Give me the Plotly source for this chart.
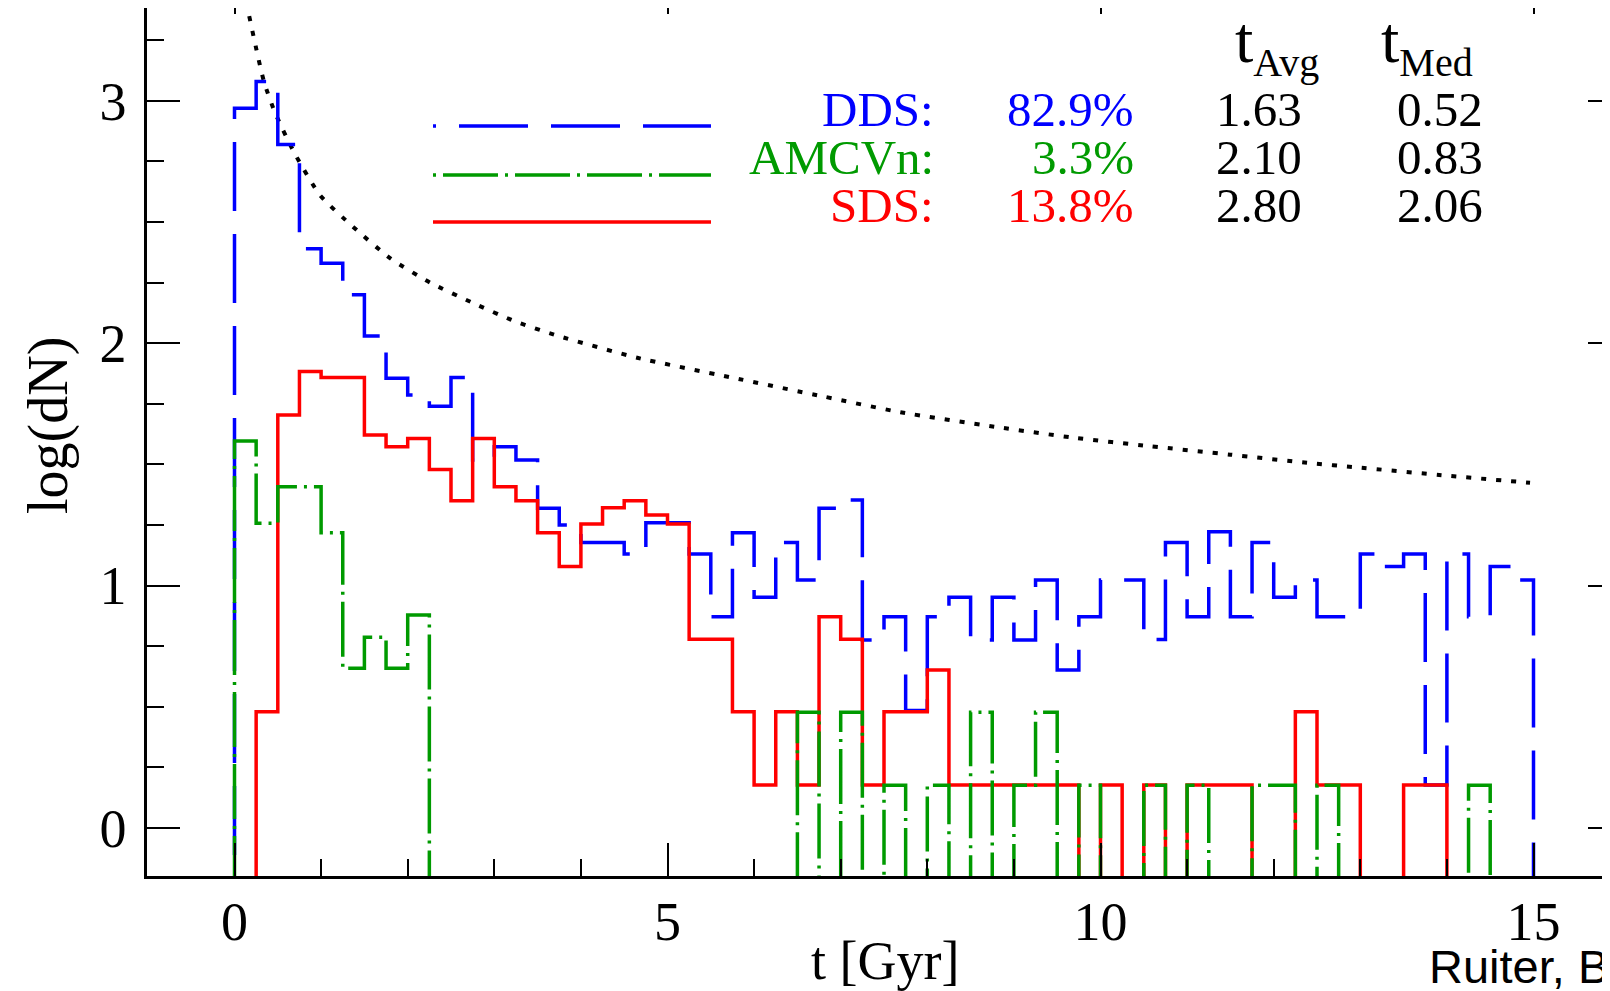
import plotly.graph_objects as go

# ---------------- data ----------------
bin_width = 0.25  # Gyr, bins start at t = 0

# log(dN) per 0.25 Gyr bin, t = 0 ... 15 Gyr (None = empty bin)
dds = [2.97, 3.08, 2.82, 2.39, 2.33, 2.20, 2.03, 1.855, 1.786, 1.74,
       1.858, 1.518, 1.573, 1.518, 1.319, 1.25, 1.177, 1.177, 1.13, 1.259,
       1.259, 1.13, 0.871, 1.218, 0.951, 1.177, 1.023, 1.319, 1.353, 0.775,
       0.871, 0.484, 0.871, 0.951, 0.775, 0.951, 0.775, 1.023, 0.651, 0.871,
       1.023, 1.023, 0.777, 1.177, 0.871, 1.222, 0.871, 1.177, 0.951, 1.023,
       0.871, 0.871, 1.13, 1.078, 1.13, 0.177, 1.13, 0.871, 1.078, 1.023]

amcvn = [1.596, 1.257, 1.408, 1.408, 1.218, 0.658, 0.786, 0.658, 0.878, None,
         None, None, None, None, None, None, None, None, None, None,
         None, None, None, None, None, None, 0.477, None, 0.477, None,
         0.176, None, 0.176, None, 0.477, None, 0.176, 0.477, None, 0.176,
         None, None, 0.176, None, 0.176, None, None, 0.176, 0.176, None,
         0.176, None, None, None, None, None, None, 0.176, None, None]

sds = [None, 0.479, 1.704, 1.883, 1.858, 1.858, 1.621, 1.573, 1.607, 1.479,
       1.350, 1.607, 1.408, 1.350, 1.218, 1.078, 1.254, 1.321, 1.350, 1.291,
       1.254, 0.778, 0.778, 0.479, 0.177, 0.479, 0.177, 0.871, 0.778, 0.177,
       0.479, 0.479, 0.651, 0.177, 0.177, 0.177, 0.177, 0.177, 0.177, None,
       0.177, None, 0.177, None, 0.177, 0.177, 0.177, None, None, 0.479,
       0.177, 0.177, None, None, 0.177, 0.177, None, None, None, None]

# dotted reference curve
dotted_t = [0.17, 0.34, 0.47, 0.70, 0.99, 1.37, 1.80, 2.26, 2.76, 3.24, 3.74,
            4.65, 5.72, 6.80, 7.69, 8.78, 9.69, 10.57, 11.50, 12.42, 12.95,
            14.04, 14.96]
dotted_y = [3.35, 3.08, 2.95, 2.78, 2.61, 2.48, 2.35, 2.25, 2.165, 2.09, 2.03,
            1.94, 1.86, 1.78, 1.715, 1.655, 1.61, 1.575, 1.54, 1.505, 1.488,
            1.452, 1.424]

# table text
names = ["DDS:", "AMCVn:", "SDS:"]
percents = ["82.9%", "3.3%", "13.8%"]
t_avg = ["1.63", "2.10", "2.80"]
t_med = ["0.52", "0.83", "2.06"]
headers = ["Avg", "Med"]

x_ticks = [0, 5, 10, 15]
y_ticks = [0, 1, 2, 3]

# ---------------- geometry (page pixels) ----------------
OFF = 8                      # default page margin around the figure div
PAGE_W, PAGE_H = 1610, 991
W, H = PAGE_W - OFF, PAGE_H - OFF
PLOT_L, PLOT_R, PLOT_T, PLOT_B = 147, 1610, 8, 876   # plot area on the page
ML = PLOT_L - OFF
MT = PLOT_T - OFF
PW = PLOT_R - PLOT_L
PH = PLOT_B - PLOT_T
MB = H - (PLOT_B - OFF)
X0_PX, X_SCALE = 234.5, 86.6      # page pixel of t=0, px per Gyr
Y0_PX, Y_SCALE = 827.8, 242.3     # page pixel of log=0, px per dex
x_range = [(PLOT_L - X0_PX) / X_SCALE, (PLOT_R - X0_PX) / X_SCALE]
y_range = [(Y0_PX - PLOT_B) / Y_SCALE, (Y0_PX - PLOT_T) / Y_SCALE]
FLOOR = y_range[0] - 0.4

BLUE, GREEN, RED = "#0000ff", "#009a00", "#ff0000"
SERIF = "Liberation Serif, DejaVu Serif, serif"
SANS = "Liberation Sans, Arial, sans-serif"
LW = 3.5
DASH_DDS = "3px,23px,66px,0px"
DASH_AM = "3px,7px,55px,7px"


def step_xy(vals):
    xs = [0.0] + [i * bin_width for i in range(len(vals))] + [len(vals) * bin_width]
    ys = [FLOOR] + [v if v is not None else FLOOR for v in vals] + [FLOOR]
    return xs, ys


fig = go.Figure()

fig.add_trace(go.Scatter(x=dotted_t, y=dotted_y, mode="lines",
                         line=dict(color="black", width=4, dash="5px,10px",
                                   shape="spline", smoothing=0.6),
                         showlegend=False, hoverinfo="skip"))
for vals, col, dash in [(dds, BLUE, DASH_DDS), (sds, RED, "solid"), (amcvn, GREEN, DASH_AM)]:
    xs, ys = step_xy(vals)
    fig.add_trace(go.Scatter(x=xs, y=ys, mode="lines",
                             line=dict(color=col, width=LW, dash=dash, shape="hv"),
                             showlegend=False, hoverinfo="skip"))

# overlay axes for the mirrored ticks (top / right)
fig.add_trace(go.Scatter(x=[], y=[], xaxis="x2", yaxis="y2", showlegend=False, hoverinfo="skip"))


def px_x(px):
    return (px - PLOT_L) / PW


def px_y(py):
    return 1 - (py - PLOT_T) / PH


def ann(text, px, py, color="black", size=50, xanchor="center", yanchor="middle",
        family=SERIF, angle=0):
    return dict(text=text, x=px_x(px), y=px_y(py), xref="paper", yref="paper",
                showarrow=False, xanchor=xanchor, yanchor=yanchor, textangle=angle,
                font=dict(family=family, size=size, color=color))


annotations = []
row_y = [109, 158, 206]
cols = [BLUE, GREEN, RED]
for i in range(3):
    annotations.append(ann(names[i], 936, row_y[i], cols[i], xanchor="right", size=49))
    annotations.append(ann(percents[i], 1136, row_y[i], cols[i], xanchor="right", size=49))
    annotations.append(ann(t_avg[i], 1259, row_y[i], size=49))
    annotations.append(ann(t_med[i], 1440, row_y[i], size=49))
for hdr, hx in zip(headers, [1277, 1427]):
    annotations.append(ann("t<sub><span style='font-size:40px'>" + hdr + "</span></sub>",
                           hx, 44, size=66))
annotations.append(ann("log(dN)", 48, 426, size=56, angle=-90))
annotations.append(ann("t [Gyr]", 885, 961, size=54))
annotations.append(ann("Ruiter, Belczynski &amp; Fryer 2009", 1427, 966, size=47,
                       xanchor="left", family=SANS))

shapes = []
legend_y = [126, 175, 222]
for ly, col, dash in zip(legend_y, cols, [DASH_DDS, DASH_AM, "solid"]):
    shapes.append(dict(type="line", xref="paper", yref="paper",
                       x0=px_x(433), x1=px_x(711), y0=px_y(ly), y1=px_y(ly),
                       line=dict(color=col, width=LW, dash=dash)))

axis_common = dict(showgrid=False, zeroline=False, tickcolor="black", tickwidth=2,
                   ticks="inside")

fig.update_layout(
    width=W, height=H,
    margin=dict(l=ML, r=0, t=MT, b=MB, pad=0),
    paper_bgcolor="white", plot_bgcolor="white",
    showlegend=False,
    xaxis=dict(range=x_range, tickvals=x_ticks, ticklen=33, showline=True,
               linecolor="black", linewidth=2.5,
               minor=dict(dtick=1, tick0=0, ticklen=17, tickwidth=2, ticks="inside",
                          tickcolor="black"),
               tickfont=dict(family=SERIF, size=54, color="black"),
               ticklabelstandoff=-4, **axis_common),
    yaxis=dict(range=y_range, tickvals=y_ticks, ticklen=33, showline=True,
               linecolor="black", linewidth=2.5,
               minor=dict(dtick=0.25, tick0=0, ticklen=17, tickwidth=2, ticks="inside",
                          tickcolor="black"),
               tickfont=dict(family=SERIF, size=54, color="black"),
               ticklabelstandoff=7, **axis_common),
    xaxis2=dict(range=x_range, overlaying="x", anchor="y", side="top",
                tickvals=x_ticks, ticklen=6, showticklabels=False, showline=False,
                **axis_common),
    yaxis2=dict(range=y_range, overlaying="y", anchor="x", side="right",
                tickvals=y_ticks, ticklen=22, showticklabels=False, showline=False,
                minor=dict(dtick=0.25, tick0=0, ticklen=6, tickwidth=2, ticks="inside",
                           tickcolor="black"),
                **axis_common),
    annotations=annotations,
    shapes=shapes,
)

fig.write_html("out.html")
